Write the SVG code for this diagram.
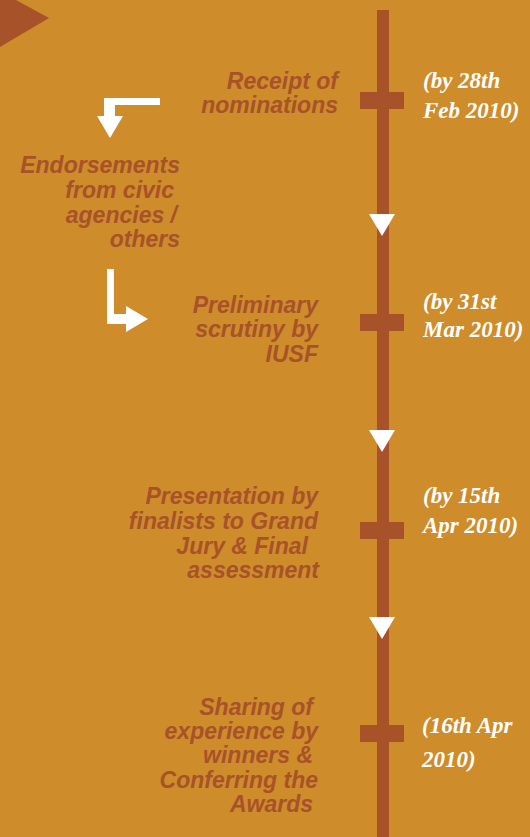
<svg xmlns="http://www.w3.org/2000/svg" width="530" height="837" viewBox="0 0 530 837">
<style>
.lbl{font-family:"Liberation Sans",Arial,sans-serif;font-weight:bold;font-style:italic;font-size:23px;fill:#A8522A;text-anchor:end}
.date{font-family:"Liberation Serif","Times New Roman",serif;font-weight:bold;font-style:italic;font-size:23px;fill:#FFFFFF}
.brown{fill:#A8522A}
.wh{fill:#FFFFFF}
</style>
<rect x="0" y="0" width="530" height="837" fill="#CE8C2A"/>
<polygon class="brown" points="0,0 16,0 49,18 0,47"/>
<g id="connectors">
<rect class="brown" x="377" y="10" width="12" height="827"/>
<polygon class="wh" points="369,214 395,214 382,236"/>
<polygon class="wh" points="369,430 395,430 382,452"/>
<polygon class="wh" points="369,617 395,617 382,639"/>
<path class="wh" d="M160,98 H104 V116 H97 L110,138 L123,116 H115 V105 H160 Z"/>
<path class="wh" d="M107,269 H114 V314 H126 V306 L148,319 L126,332 V324 H107 Z"/>
</g>
<g id="node1">
<rect class="brown" x="360" y="92" width="44" height="17"/>
<text class="lbl" x="338" y="89">Receipt of</text>
<text class="lbl" x="338" y="113">nominations</text>
<text class="date" x="423" y="88">(by 28th</text>
<text class="date" x="423" y="118">Feb 2010)</text>
</g>
<g id="node2">
<text class="lbl" x="180" y="173">Endorsements</text>
<text class="lbl" x="174" y="198">from civic</text>
<text class="lbl" x="177" y="223">agencies /</text>
<text class="lbl" x="180" y="247">others</text>
</g>
<g id="node3">
<rect class="brown" x="360" y="314" width="44" height="17"/>
<text class="lbl" x="318" y="313">Preliminary</text>
<text class="lbl" x="318" y="337">scrutiny by</text>
<text class="lbl" x="318" y="362">IUSF</text>
<text class="date" x="423" y="309">(by 31st</text>
<text class="date" x="423" y="337">Mar 2010)</text>
</g>
<g id="node4">
<rect class="brown" x="360" y="522" width="44" height="17"/>
<text class="lbl" x="318" y="504">Presentation by</text>
<text class="lbl" x="318" y="529">finalists to Grand</text>
<text class="lbl" x="308" y="554">Jury &amp; Final</text>
<text class="lbl" x="319" y="578">assessment</text>
<text class="date" x="423" y="503">(by 15th</text>
<text class="date" x="423" y="533">Apr 2010)</text>
</g>
<g id="node5">
<rect class="brown" x="360" y="725" width="44" height="17"/>
<text class="lbl" x="313" y="715">Sharing of</text>
<text class="lbl" x="318" y="739">experience by</text>
<text class="lbl" x="313" y="763">winners &amp;</text>
<text class="lbl" x="318" y="788">Conferring the</text>
<text class="lbl" x="313" y="812">Awards</text>
<text class="date" x="422" y="733">(16th Apr</text>
<text class="date" x="422" y="767">2010)</text>
</g>
</svg>
